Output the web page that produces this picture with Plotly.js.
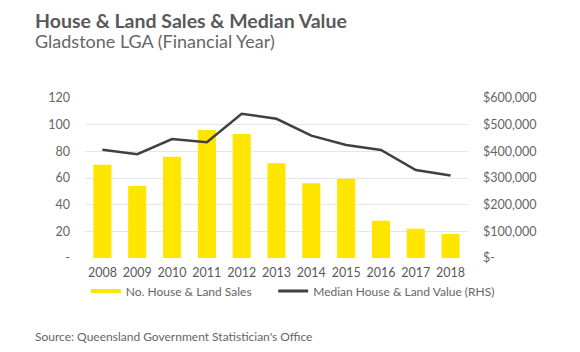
<!DOCTYPE html>
<html><head><meta charset="utf-8">
<script src="https://cdn.plot.ly/plotly-3.0.1.min.js"></script>
<style>html,body{margin:0;padding:0;background:#fff}#c{width:580px;height:352px}</style>
</head><body><div id="c"></div>
<script>
const years = ['2008','2009','2010','2011','2012','2013','2014','2015','2016','2017','2018'];
const sales = [70, 54, 76, 96, 93, 71, 56, 59.5, 28, 22, 18];
const medianValue = [406000, 389000, 446000, 434000, 541000, 522000, 459000, 424000, 405000, 330000, 309000];
const leftTicks = [0, 20, 40, 60, 80, 100, 120];
const leftTickText = ['-', '20', '40', '60', '80', '100', '120'];
const rightTicks = [0, 100000, 200000, 300000, 400000, 500000, 600000];
const rightTickText = ['$-', '$100,000', '$200,000', '$300,000', '$400,000', '$500,000', '$600,000'];

const yellow = '#FFE600', dark = '#404040';
const traces = [
  {type:'bar', x:years, y:sales, name:'No. House & Land Sales', marker:{color:yellow}, showlegend:false, hoverinfo:'skip'},
  {type:'scatter', mode:'lines', x:years, y:medianValue, yaxis:'y2', name:'Median House & Land Value (RHS)', line:{color:dark, width:2.5}, showlegend:false},
  {type:'scatter', mode:'lines', x:[years[0]], y:[null], name:'No. House & Land Sales', line:{color:yellow, width:4}, legend:'legend'},
  {type:'scatter', mode:'lines', x:[years[0]], y:[null], yaxis:'y2', name:'Median House & Land Value (RHS)', line:{color:dark, width:3}, legend:'legend2'}
];
const legendBase = {orientation:'h', xref:'container', yref:'container', xanchor:'left', y:0.173, yanchor:'middle', bgcolor:'rgba(0,0,0,0)', font:{size:12, color:'#666'}, itemwidth:30, tracegroupgap:0};
const layout = {
  width:580, height:352,
  margin:{l:85, r:112, t:98, b:94},
  paper_bgcolor:'#fff', plot_bgcolor:'#fff',
  font:{family:'Lato, sans-serif', color:'#666', size:12},
  bargap:0.48,
  xaxis:{type:'category', showgrid:false, zeroline:false, showline:false, ticks:'', ticklabelstandoff:5, tickfont:{size:12.5, color:'#595959'}},
  yaxis:{range:[0,120], tickvals:leftTicks, ticktext:leftTickText, showgrid:true, gridcolor:'#e6e6e6', gridwidth:1, zeroline:false, showline:false, ticks:'', ticklabelstandoff:14, tickfont:{size:12.5, color:'#666'}},
  yaxis2:{range:[0,600000], overlaying:'y', side:'right', tickvals:rightTicks, ticktext:rightTickText, showgrid:false, zeroline:false, showline:false, ticks:'', ticklabelstandoff:14, tickfont:{size:12.5, color:'#666'}},
  legend:Object.assign({}, legendBase, {x:0.148}),
  legend2:Object.assign({}, legendBase, {x:0.471}),
  annotations:[
    {xref:'paper', yref:'paper', x:-0.135, y:1.0, xanchor:'left', yanchor:'bottom', yshift:64, showarrow:false, align:'left', text:'<b>House &amp; Land Sales &amp; Median Value</b>', font:{size:19.5, color:'#595959', family:'Lato, sans-serif'}},
    {xref:'paper', yref:'paper', x:-0.135, y:1.0, xanchor:'left', yanchor:'bottom', yshift:44, showarrow:false, align:'left', text:'Gladstone LGA (Financial Year)', font:{size:18, color:'#666', family:'Lato, sans-serif'}},
    {xref:'paper', yref:'paper', x:-0.135, y:0, xanchor:'left', yanchor:'middle', yshift:-78, showarrow:false, align:'left', text:"Source: Queensland Government Statistician's Office", font:{size:12, color:'#666', family:'Lato, sans-serif'}}
  ]
};
Plotly.newPlot('c', traces, layout, {displayModeBar:false, staticPlot:true});
</script></body></html>
